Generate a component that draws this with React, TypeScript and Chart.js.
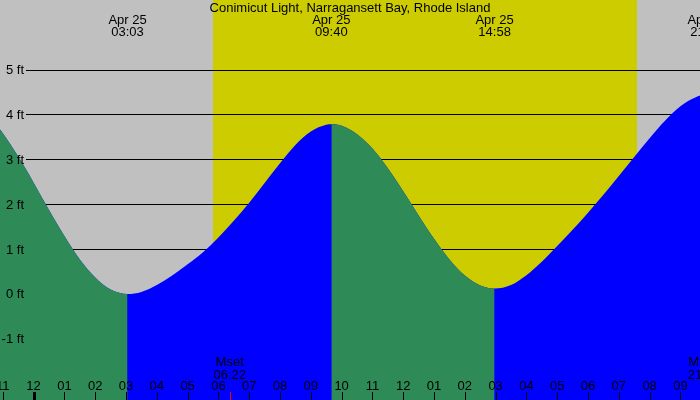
import React, { useEffect, useRef } from "react";
import { Chart, registerables } from "chart.js";

Chart.register(...registerables);

const TITLE = "Conimicut Light, Narragansett Bay, Rhode Island";

// Tide curve readings: hours after midnight Apr 25, height in feet
const tideHours = [-2.55, -2.0, -1.5, -1.0, -0.5, 0, 0.5, 1.0, 1.5, 2.0, 2.5, 3.05, 3.5, 4.0, 4.5, 5.0, 5.5, 6.0, 6.5, 7.0, 7.5, 8.0, 8.5, 9.0, 9.5, 9.667, 10.0, 10.5, 11.0, 11.5, 12.0, 12.5, 13.0, 13.5, 14.0, 14.5, 14.967, 15.5, 16.0, 16.5, 17.0, 17.5, 18.0, 18.5, 19.0, 19.5, 20.0, 20.5, 21.0, 21.5, 21.85, 22.3];
const tideFeet = [4.35, 4.25, 3.98, 3.58, 3.06, 2.48, 1.87, 1.29, 0.77, 0.37, 0.10, 0.0, 0.045, 0.20, 0.41, 0.66, 0.93, 1.26, 1.63, 2.03, 2.47, 2.91, 3.32, 3.62, 3.77, 3.78, 3.745, 3.56, 3.24, 2.80, 2.29, 1.75, 1.23, 0.77, 0.41, 0.19, 0.12, 0.20, 0.42, 0.72, 1.07, 1.43, 1.81, 2.21, 2.63, 3.05, 3.47, 3.86, 4.18, 4.38, 4.45, 4.40];

// High / low events
const eventHours = [3.05, 9.667, 14.967, 21.85];
const eventDates = ["Apr 25", "Apr 25", "Apr 25", "Apr 25"];
const eventTimes = ["03:03", "09:40", "14:58", "21:51"];

// Sun
const sunriseHour = 5.82;
const sunsetHour = 19.59;

// Moon
const moonHours = [6.367, 21.77];
const moonNames = ["Mset", "Mrise"];
const moonTimes = ["06:22", "21:46"];

// Axis ticks
const hourTicks = [-1, 0, 1, 2, 3, 4, 5, 6, 7, 8, 9, 10, 11, 12, 13, 14, 15, 16, 17, 18, 19, 20, 21];
const hourLabels = ["11", "12", "01", "02", "03", "04", "05", "06", "07", "08", "09", "10", "11", "12", "01", "02", "03", "04", "05", "06", "07", "08", "09"];
const feetTicks = [5, 4, 3, 2, 1, 0, -1];
const feetLabels = ["5 ft", "4 ft", "3 ft", "2 ft", "1 ft", "0 ft", "-1 ft"];

const X_MIN = -1.091;
const X_MAX = 21.636;
const Y_MIN = -2.361;
const Y_MAX = 6.548;

const GREEN = "#2e8b57";
const BLUE = "#0000ff";
const GRAY = "#c0c0c0";
const YELLOW = "#cccc00";
const CLEAR = "rgba(0,0,0,0)";
const FONT = '13px "Liberation Sans", Arial, sans-serif';

const tidePlugin = {
  id: "tideDecor",
  beforeDatasetsDraw(chart: any) {
    const { ctx, chartArea, scales } = chart;
    const xs = scales.x;
    const ys = scales.y;
    ctx.save();
    ctx.fillStyle = GRAY;
    ctx.fillRect(chartArea.left, chartArea.top, chartArea.right - chartArea.left, chartArea.bottom - chartArea.top);
    const sx0 = Math.round(xs.getPixelForValue(sunriseHour));
    const sx1 = Math.round(xs.getPixelForValue(sunsetHour));
    ctx.fillStyle = YELLOW;
    ctx.fillRect(sx0, chartArea.top, sx1 - sx0, chartArea.bottom - chartArea.top);
    ctx.fillStyle = "#000";
    for (const v of feetTicks) {
      const py = Math.round(ys.getPixelForValue(v));
      ctx.fillRect(26, py, chartArea.right - 26, 1);
    }
    ctx.restore();
  },
  afterDraw(chart: any) {
    const { ctx, scales } = chart;
    const xs = scales.x;
    const ys = scales.y;
    ctx.save();
    ctx.font = FONT;
    ctx.fillStyle = "#000";
    ctx.textBaseline = "alphabetic";
    ctx.textAlign = "center";
    ctx.fillText(TITLE, 350, 12);
    eventHours.forEach((h, i) => {
      const px = xs.getPixelForValue(h);
      ctx.fillText(eventDates[i], px, 23.5);
      ctx.fillText(eventTimes[i], px, 36);
    });
    ctx.textAlign = "right";
    feetTicks.forEach((v, i) => {
      const py = ys.getPixelForValue(v);
      ctx.fillText(feetLabels[i], 24, py + 4.5);
    });
    ctx.textAlign = "center";
    hourTicks.forEach((h, i) => {
      const px = xs.getPixelForValue(h);
      ctx.fillStyle = "#000";
      ctx.fillText(hourLabels[i], px, 390);
      const rx = Math.round(px);
      if (h === 0) ctx.fillRect(rx - 1, 392, 3, 8);
      else ctx.fillRect(rx, 392, 1, 8);
    });
    moonHours.forEach((h, i) => {
      const px = xs.getPixelForValue(h);
      ctx.fillStyle = "#000";
      ctx.fillText(moonNames[i], px, 366);
      ctx.fillText(moonTimes[i], px, 378.5);
      ctx.fillStyle = "#ff0000";
      ctx.fillRect(Math.round(px), 392, 1, 8);
    });
    ctx.restore();
  },
};

export default function App() {
  const ref = useRef<HTMLCanvasElement | null>(null);
  useEffect(() => {
    document.body.style.margin = "0";
    const canvas = ref.current;
    if (!canvas) return;
    const points = tideHours.map((h, i) => ({ x: h, y: tideFeet[i] }));
    const common = {
      borderColor: CLEAR,
      borderWidth: 0,
      pointRadius: 0,
      fill: "start",
      cubicInterpolationMode: "monotone",
    };
    const chart = new Chart(canvas, {
      type: "line",
      data: {
        datasets: [
          {
            ...common,
            label: "Falling",
            data: points,
            backgroundColor: GREEN,
            segment: {
              backgroundColor: (c: any) => (c.p1.parsed.y < c.p0.parsed.y ? GREEN : CLEAR),
              borderColor: () => CLEAR,
            },
          } as any,
          {
            ...common,
            label: "Rising",
            data: points,
            backgroundColor: BLUE,
          } as any,
        ],
      },
      options: {
        responsive: false,
        animation: false,
        layout: { padding: 0 },
        plugins: { legend: { display: false }, title: { display: false }, tooltip: { enabled: false } },
        events: [],
        scales: {
          x: { type: "linear", min: X_MIN, max: X_MAX, display: false },
          y: { type: "linear", min: Y_MIN, max: Y_MAX, display: false },
        },
      },
      plugins: [tidePlugin],
    });
    return () => chart.destroy();
  }, []);
  return <canvas ref={ref} width={700} height={400} style={{ display: "block" }} />;
}
